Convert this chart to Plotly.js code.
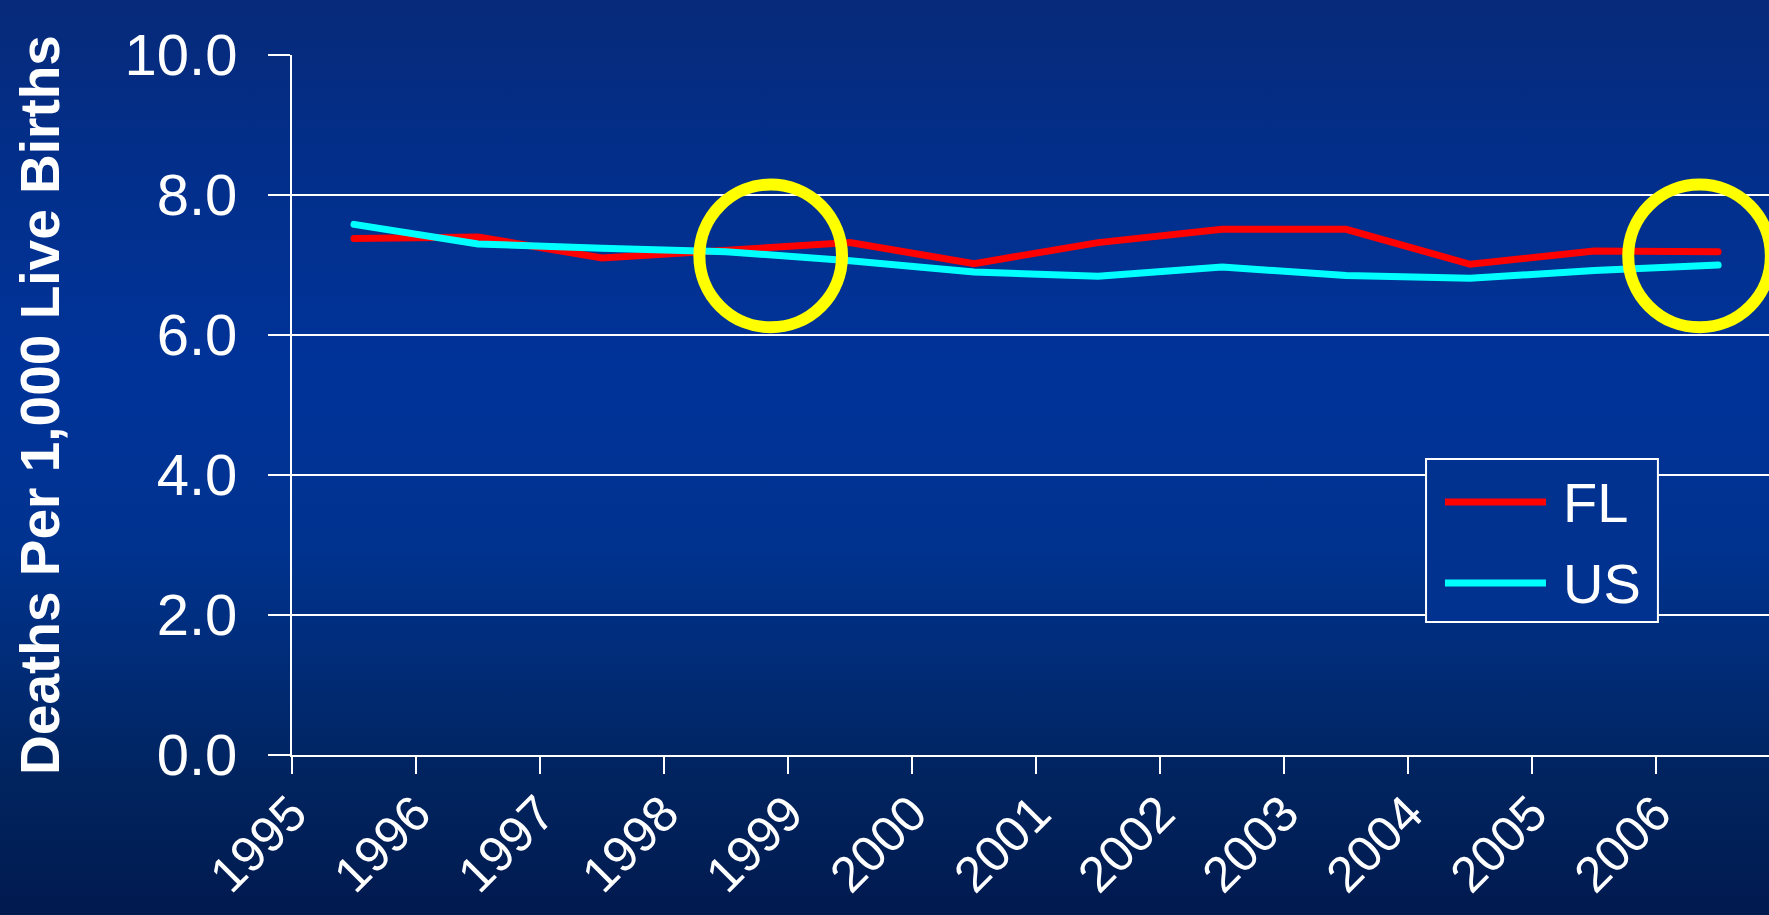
<!DOCTYPE html>
<html>
<head>
<meta charset="utf-8">
<script src="https://cdn.plot.ly/plotly-3.0.1.min.js"></script>
<style>
  html, body { margin:0; padding:0; width:1769px; height:915px; overflow:hidden;
    background: linear-gradient(to bottom, #072a79 0%, #032e88 15%, #003399 40%, #00338f 60%, #01245f 85%, #011a4f 100%); }
  #chart { width:1769px; height:915px; }
  .scatterlayer path.js-line { stroke-linecap: round; }
</style>
</head>
<body>
<div id="chart"></div>
<script>
// ---- data ----
var years = ['1995','1996','1997','1998','1999','2000','2001','2002','2003','2004','2005','2006'];
var flValues = [7.38, 7.40, 7.10, 7.20, 7.32, 7.02, 7.32, 7.51, 7.51, 7.01, 7.20, 7.19];
var usValues = [7.58, 7.30, 7.24, 7.19, 7.06, 6.90, 6.84, 6.97, 6.85, 6.81, 6.92, 7.00];
var seriesNames = ['FL', 'US'];
var seriesColors = ['#ff0000', '#00ffff'];
var yTitle = 'Deaths Per 1,000 Live Births';
var yTicks = [0, 2, 4, 6, 8, 10];

// category index positions (data sits at the middle of each category)
var tickPos = years.map(function(y, i){ return i; });
var pointPos = years.map(function(y, i){ return i + 0.5; });

var font = 'Liberation Sans, Arial, sans-serif';

var traces = [
  { x: pointPos, y: flValues, name: seriesNames[0], type: 'scatter', mode: 'lines',
    line: { color: seriesColors[0], width: 7 }, showlegend: false, hoverinfo: 'skip' },
  { x: pointPos, y: usValues, name: seriesNames[1], type: 'scatter', mode: 'lines',
    line: { color: seriesColors[1], width: 7 }, showlegend: false, hoverinfo: 'skip' }
];

// custom legend (box, sample lines, labels) in paper coordinates
var legBox = { x0: 0.7678, x1: 0.9248, y0: 0.19, y1: 0.4229 };
var legRows = [0.3614, 0.2457];
var shapes = [
  { type: 'rect', xref: 'paper', yref: 'paper', x0: legBox.x0, x1: legBox.x1, y0: legBox.y0, y1: legBox.y1,
    line: { color: '#ffffff', width: 2 }, fillcolor: '#013290', layer: 'above' },
  // highlight circles
  { type: 'circle', xref: 'x', yref: 'y', x0: 3.86 - 0.575, x1: 3.86 + 0.575, y0: 7.13 - 1.02, y1: 7.13 + 1.02,
    line: { color: '#ffff00', width: 12 }, layer: 'above' },
  { type: 'circle', xref: 'x', yref: 'y', x0: 11.35 - 0.575, x1: 11.35 + 0.575, y0: 7.13 - 1.02, y1: 7.13 + 1.02,
    line: { color: '#ffff00', width: 12 }, layer: 'above' }
];
var annotations = [];
seriesNames.forEach(function(n, i){
  shapes.push({ type: 'line', xref: 'paper', yref: 'paper', x0: 0.7806, x1: 0.8490, y0: legRows[i], y1: legRows[i],
    line: { color: seriesColors[i], width: 7 }, layer: 'above' });
  annotations.push({ xref: 'paper', yref: 'paper', x: 0.8595, y: legRows[i], xanchor: 'left', yanchor: 'middle',
    text: n, showarrow: false, font: { family: font, size: 56, color: '#ffffff' } });
});

var layout = {
  width: 1769, height: 915,
  paper_bgcolor: 'rgba(0,0,0,0)', plot_bgcolor: 'rgba(0,0,0,0)',
  margin: { l: 292, r: 0, t: 55, b: 160, pad: 0 },
  showlegend: false,
  font: { family: font, color: '#ffffff' },
  xaxis: {
    range: [0, 11.91], tickmode: 'array', tickvals: tickPos, ticktext: years, tickangle: -45,
    ticks: 'outside', ticklen: 17, tickwidth: 2, tickcolor: '#ffffff',
    ticklabelstandoff: -10,
    showline: true, linecolor: '#ffffff', linewidth: 2, showgrid: false, zeroline: false,
    tickfont: { family: font, size: 50, color: '#ffffff' }, fixedrange: true, automargin: false
  },
  yaxis: {
    range: [0, 10], tickmode: 'array', tickvals: yTicks, tickformat: '.1f',
    ticks: 'outside', ticklen: 22, tickwidth: 2, tickcolor: '#ffffff',
    ticklabelstandoff: 19,
    showline: true, linecolor: '#ffffff', linewidth: 2,
    showgrid: true, gridcolor: '#ffffff', gridwidth: 2, zeroline: false,
    tickfont: { family: font, size: 58, color: '#ffffff' }, fixedrange: true, automargin: false,
    title: { text: yTitle, standoff: 47, font: { family: font, size: 55, color: '#ffffff', weight: 'bold' } }
  },
  shapes: shapes,
  annotations: annotations
};

Plotly.newPlot('chart', traces, layout, { displayModeBar: false, staticPlot: true });
</script>
</body>
</html>
